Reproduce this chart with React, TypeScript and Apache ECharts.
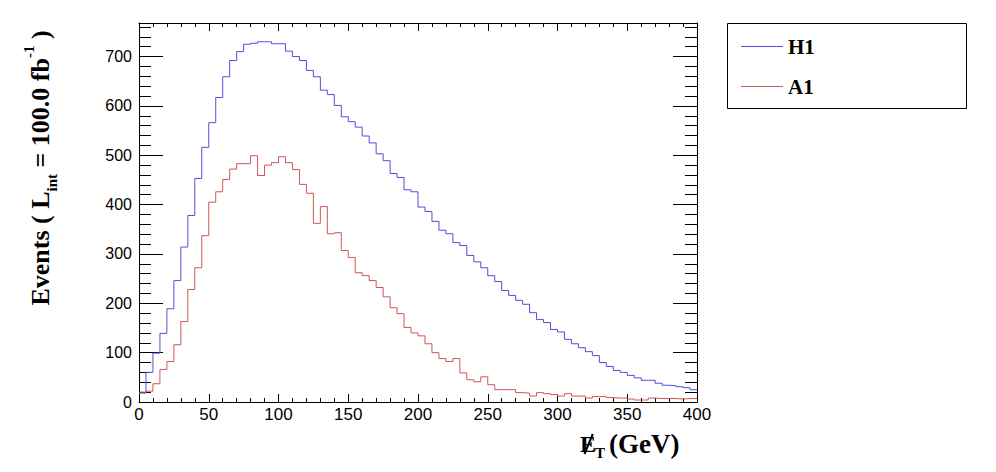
import React, { useEffect, useRef } from "react";
import * as echarts from "echarts";

// Bin edges of the missing-ET histogram (GeV)
const BIN_EDGES = [
  0, 5, 10, 15, 20, 25, 30, 35, 40, 45, 50, 55, 60, 65, 70, 75, 80, 85, 90, 95,
  100, 105, 110, 115, 120, 125, 130, 135, 140, 145, 150, 155, 160, 165, 170, 175, 180, 185, 190, 195,
  200, 205, 210, 215, 220, 225, 230, 235, 240, 245, 250, 255, 260, 265, 270, 275, 280, 285, 290, 295,
  300, 305, 310, 315, 320, 325, 330, 335, 340, 345, 350, 355, 360, 365, 370, 375, 380, 385, 390, 395,
  400,
];

const H1_EVENTS = [
  20, 60, 99, 139, 189, 246, 314, 378, 453, 516, 566, 617, 659, 692, 710, 725, 727, 730, 730, 726,
  726, 711, 700, 692, 672, 659, 632, 623, 601, 578, 568, 557, 539, 525, 503, 489, 463, 455, 430, 426,
  395, 386, 366, 348, 341, 323, 317, 297, 284, 272, 256, 244, 226, 216, 206, 198, 181, 167, 161, 147,
  142, 127, 118, 110, 102, 94, 80, 72, 64, 60, 54, 49, 44, 44, 38, 34, 33, 31, 29, 25,
];

const A1_EVENTS = [
  18, 22, 37, 66, 82, 116, 163, 228, 272, 337, 405, 426, 451, 472, 483, 483, 499, 459, 480, 485,
  497, 485, 471, 441, 423, 362, 396, 341, 343, 307, 293, 262, 256, 246, 232, 213, 191, 179, 151, 140,
  134, 118, 100, 88, 82, 88, 59, 45, 41, 51, 35, 25, 25, 25, 19, 18, 12, 19, 17, 15,
  12, 17, 12, 12, 8, 11, 11, 9, 8, 8, 6, 4, 4, 8, 7, 7, 7, 6, 7, 7,
];

const SERIES_NAMES = ["H1", "A1"];
const SERIES_COLORS = ["#4f4fdb", "#d05555"];

const X_MIN = 0;
const X_MAX = 400;
const Y_MIN = 0;
const Y_MAX = 768;

const SERIF = '"Liberation Serif", "Times New Roman", serif';
const SANS = '"Liberation Sans", Arial, Helvetica, sans-serif';

function stepPoints(counts: number[]): number[][] {
  const pts = counts.map((c, i) => [BIN_EDGES[i], c]);
  pts.push([BIN_EDGES[counts.length], counts[counts.length - 1]]);
  return pts;
}

function textWidth(text: string, size: number): number {
  const ctx = document.createElement("canvas").getContext("2d");
  if (!ctx) return text.length * size * 0.5;
  ctx.font = `bold ${size}px ${SERIF}`;
  return ctx.measureText(text).width;
}

function textEl(text: string, x: number, y: number, size: number, align = "left") {
  return {
    type: "text",
    x,
    y,
    silent: true,
    style: {
      text,
      fontSize: size,
      fontWeight: "bold",
      fontFamily: SERIF,
      fill: "#000",
      align,
      verticalAlign: "middle",
      textAlign: align,
      textVerticalAlign: "middle",
    },
  };
}

function buildYTitle() {
  const parts = [
    { t: "Events ( L", s: 26, dy: 0 },
    { t: "int", s: 15, dy: 12 },
    { t: " = 100.0 fb", s: 26, dy: 0 },
    { t: "-1", s: 15, dy: -11 },
    { t: " )", s: 26, dy: 0 },
  ];
  const widths = parts.map((p) => textWidth(p.t, p.s));
  const total = widths.reduce((a, b) => a + b, 0);
  let acc = -total / 2;
  const children: any[] = [];
  parts.forEach((p, i) => {
    const lead = p.t.length - p.t.trimStart().length;
    const leadW = lead > 0 ? textWidth(p.t.slice(0, lead), p.s) : 0;
    children.push(textEl(p.t.trim(), acc + leadW, p.dy, p.s));
    acc += widths[i];
  });
  return {
    type: "group",
    x: 40,
    y: 168,
    rotation: Math.PI / 2,
    children,
  };
}

function buildXTitle() {
  const size = 24;
  const ex = 580;
  const ey = 444;
  const wE = textWidth("E", size);
  return {
    type: "group",
    children: [
      textEl("E", ex, ey, size),
      {
        type: "line",
        silent: true,
        shape: { x1: ex + wE * 0.8, y1: ey - 10, x2: ex + wE * 0.28, y2: ey + 10 },
        style: { stroke: "#000", lineWidth: 2 },
      },
      textEl("T", ex + wE - 1, ey + 9, 15),
      textEl("(GeV)", 609, ey, 27),
    ],
  };
}

function App() {
  const ref = useRef<HTMLDivElement>(null);

  useEffect(() => {
    if (!ref.current) return;
    const chart = echarts.init(ref.current, null, { renderer: "svg" });

    const black = { color: "#000", width: 1 };
    const baseX = {
      type: "value",
      min: X_MIN,
      max: X_MAX,
      interval: 50,
      axisLine: { show: true, onZero: false, lineStyle: black },
      axisTick: { show: true, inside: true, length: 8, lineStyle: black },
      minorTick: { show: true, splitNumber: 5, length: 4, lineStyle: black },
      splitLine: { show: false },
      minorSplitLine: { show: false },
    };
    const baseY = {
      type: "value",
      min: Y_MIN,
      max: Y_MAX,
      splitLine: { show: false },
      axisLabel: { show: false },
    };

    const option: any = {
      animation: false,
      backgroundColor: "#fff",
      grid: { left: 139, right: 299, top: 23, bottom: 70, containLabel: false },
      legend: {
        data: SERIES_NAMES,
        orient: "vertical",
        left: 736,
        top: 31,
        itemWidth: 42,
        itemHeight: 1,
        itemGap: 19,
        itemTextGap: 8,
        icon: "rect",
        selectedMode: false,
        textStyle: {
          fontFamily: SERIF,
          fontWeight: "bold",
          fontSize: 21,
          color: "#000",
          padding: [5, 0, 0, 0],
        },
      },
      xAxis: [
        {
          ...baseX,
          position: "bottom",
          axisLabel: { show: true, fontFamily: SANS, fontSize: 17, color: "#000", margin: 4 },
        },
        {
          ...baseX,
          position: "top",
          axisLabel: { show: false },
        },
      ],
      yAxis: [
        {
          ...baseY,
          position: "left",
          interval: 100,
          axisLine: { show: true, onZero: false, lineStyle: black },
          axisTick: { show: true, inside: true, length: 24, lineStyle: black },
          axisLabel: {
            show: true,
            fontFamily: SANS,
            fontSize: 16,
            color: "#000",
            margin: 7,
            showMaxLabel: false,
          },
        },
        {
          ...baseY,
          position: "left",
          interval: 20,
          axisLine: { show: false, onZero: false },
          axisTick: { show: true, inside: true, length: 12, lineStyle: black },
        },
        {
          ...baseY,
          position: "right",
          interval: 100,
          axisLine: { show: true, onZero: false, lineStyle: black },
          axisTick: { show: true, inside: true, length: 24, lineStyle: black },
        },
        {
          ...baseY,
          position: "right",
          interval: 20,
          axisLine: { show: false, onZero: false },
          axisTick: { show: true, inside: true, length: 12, lineStyle: black },
        },
      ],
      series: [
        {
          name: SERIES_NAMES[0],
          type: "line",
          step: "end",
          xAxisIndex: 0,
          yAxisIndex: 0,
          showSymbol: false,
          symbol: "none",
          color: SERIES_COLORS[0],
          lineStyle: { color: SERIES_COLORS[0], width: 1 },
          data: stepPoints(H1_EVENTS),
        },
        {
          name: SERIES_NAMES[1],
          type: "line",
          step: "end",
          xAxisIndex: 0,
          yAxisIndex: 0,
          showSymbol: false,
          symbol: "none",
          color: SERIES_COLORS[1],
          lineStyle: { color: SERIES_COLORS[1], width: 1 },
          data: stepPoints(A1_EVENTS),
        },
      ],
      graphic: [
        {
          type: "rect",
          silent: true,
          shape: { x: 727.5, y: 23.5, width: 239, height: 85 },
          style: { fill: "transparent", stroke: "#000", lineWidth: 1 },
        },
        buildYTitle(),
        buildXTitle(),
      ],
    };

    chart.setOption(option);
    return () => chart.dispose();
  }, []);

  return (
    <div
      ref={ref}
      style={{ position: "absolute", left: 0, top: 0, width: 996, height: 472, background: "#fff" }}
    />
  );
}

export default App;
